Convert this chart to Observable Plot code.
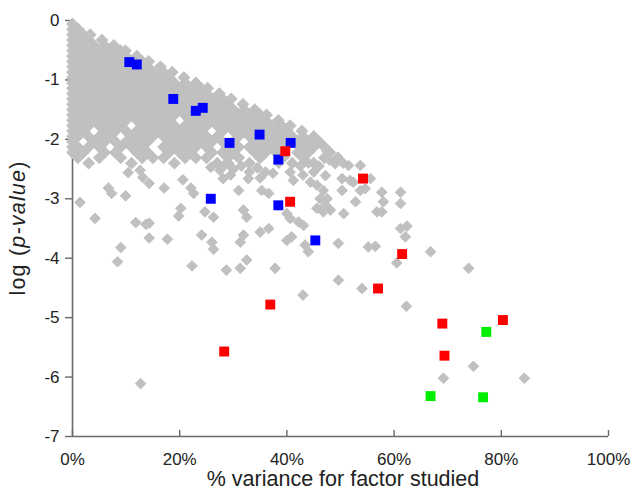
<!DOCTYPE html>
<html>
<head>
<meta charset="utf-8">
<script src="https://cdn.jsdelivr.net/npm/d3@7"></script>
<script src="https://cdn.jsdelivr.net/npm/@observablehq/plot@0.6"></script>
<style>
  html, body { margin: 0; padding: 0; background: #fff; }
  svg { display: block; }
</style>
</head>
<body>
<div id="chart"></div>
<script>
// ---- tick values ----
const xTicks = [0, 20, 40, 60, 80, 100];
const yTicks = [0, -1, -2, -3, -4, -5, -6, -7];

// ---- grey diamonds: dense band, read row by row (log p-value, then % variance values) ----
const greyRowV = [-0.06, -0.15, -0.24, -0.33, -0.42, -0.51, -0.60, -0.69, -0.78, -0.87, -0.96, -1.05, -1.14,
  -1.23, -1.32, -1.41, -1.50, -1.59, -1.68, -1.77, -1.86, -1.95, -2.04, -2.13, -2.22, -2.31, -2.40];
const greyRowP = [
  [0],
  [0, 1.1],
  [0, 2, 3.3],
  [0, 1, 3, 5.5],
  [0, 2, 4, 6, 7.7],
  [0, 1, 3, 5, 7, 9, 9.9],
  [0, 2, 4, 6, 8, 10, 12],
  [0, 1, 3, 5, 7, 9, 11, 13, 14.2],
  [0, 2, 4, 6, 8, 10, 12, 14, 16.4],
  [0, 1, 3, 5, 7, 9, 11, 13, 15, 17, 18.6],
  [0, 2, 4, 6, 8, 10, 12, 14, 16, 18, 20.8],
  [0, 1, 3, 5, 7, 9, 11, 13, 15, 17, 19, 21, 23],
  [0, 2, 4, 6, 8, 10, 12, 14, 16, 18, 20, 22, 24, 25.2],
  [0, 1, 3, 5, 7, 9, 11, 13, 15, 17, 19, 21, 23, 25, 27.4],
  [0, 2, 4, 6, 8, 10, 12, 14, 16, 18, 20, 22, 24, 26, 28, 29.6],
  [0, 1, 3, 5, 7, 9, 11, 13, 15, 17, 19, 21, 23, 25, 27, 29, 31.8],
  [0, 2, 4, 6, 8, 10, 12, 14, 16, 18, 20, 22, 24, 26, 28, 30, 32, 34],
  [0, 1, 3, 5, 7, 9, 11, 13, 15, 17, 19, 21, 23, 25, 27, 29, 31, 33, 35, 36.2],
  [0, 2, 4, 6, 8, 10, 12, 14, 16, 18, 22, 24, 26, 28, 30, 32, 34, 36, 38.4],
  [0, 1, 3, 5, 7, 9, 13, 15, 17, 19, 21, 23, 25, 27, 29, 31, 33, 35, 37, 39, 40.6],
  [0, 2, 6, 8, 10, 12, 14, 16, 18, 20, 22, 24, 28, 30, 32, 34, 36, 38, 40, 42.8],
  [0, 1, 3, 5, 7, 11, 13, 15, 17, 19, 21, 23, 25, 27, 31, 33, 35, 37, 39, 41, 43, 45],
  [0, 4, 6, 8, 10, 12, 14, 18, 20, 22, 24, 26, 28, 30, 34, 36, 38, 40, 42, 44, 46],
  [0, 1, 3, 5, 9, 11, 13, 17, 19, 21, 23, 25, 29, 31, 33, 35, 37, 39, 43, 45, 47],
  [0, 2, 6, 8, 12, 14, 18, 20, 22, 26, 28, 30, 34, 36, 38, 42, 44, 48],
  [1, 5, 9, 13, 15, 17, 21, 23, 25, 29, 31, 35, 39, 43, 47],
  [3, 11, 19, 27, 29, 33, 41, 45, 49]
];

// ---- grey diamonds: scattered points [% variance, log p-value] ----
const greyScatter = [
  [1.4,-3.06],[4.2,-3.33],[6.7,-2.82],[7.3,-2.91],[9.9,-2.95],[11.8,-3.40],[13.7,-3.43],[14.3,-3.41],
  [14.3,-3.66],[17.7,-3.68],[9.0,-3.82],[8.4,-4.06],[22.3,-4.13],[17.1,-2.82],[20.6,-2.68],[22.1,-2.82],
  [22.6,-2.91],[20.2,-3.16],[19.8,-3.29],[10.4,-2.56],[12.6,-2.52],[13.1,-2.64],[14.3,-2.74],[1.3,-2.24],
  [25.8,-2.47],[31.0,-2.86],[35.3,-2.86],[36.6,-2.91],[32.8,-2.66],[24.7,-3.22],[26.3,-3.31],[31.9,-3.19],
  [32.5,-3.31],[24.1,-3.61],[26.0,-3.73],[26.3,-3.85],[31.9,-3.61],[31.3,-3.73],[35.0,-3.56],[36.6,-3.50],
  [40.0,-3.70],[40.9,-3.64],[40.6,-3.33],[42.2,-3.39],[43.1,-3.45],[40.0,-3.25],[43.4,-3.78],[44.0,-3.89],
  [32.5,-4.03],[31.3,-4.17],[28.7,-4.20],[37.8,-4.17],[44.4,-2.72],[45.6,-2.77],[46.8,-2.86],[47.5,-3.00],
  [46.2,-3.00],[46.8,-3.22],[45.6,-3.16],[53.7,-2.44],[55.6,-2.66],[57.7,-2.89],[61.2,-2.89],[52.8,-3.05],
  [58.0,-3.05],[61.2,-3.08],[56.8,-3.22],[57.7,-3.22],[50.6,-3.25],[53.7,-2.86],[54.6,-2.83],[50.3,-2.86],
  [52.4,-2.72],[47.2,-2.61],[48.1,-3.19],[47.2,-3.11],[49.6,-3.75],[55.2,-3.81],[56.5,-3.80],[61.2,-3.50],
  [62.4,-3.46],[62.1,-3.64],[66.8,-3.89],[60.5,-4.08],[49.6,-4.37],[54.0,-4.51],[73.9,-4.17],[62.3,-4.81],
  [74.8,-5.82],[69.2,-6.02],[84.3,-6.02],[43.0,-4.62],[12.7,-6.11],
  [28.5,-2.42],[30.0,-2.50],[31.5,-2.45],[29.5,-2.60],[33.0,-2.55],[34.5,-2.48],[36.0,-2.55],[37.4,-2.57],
  [35.0,-2.65],[40.6,-2.55],[41.2,-2.69],[42.5,-2.45],[44.0,-2.40],[46.0,-2.45],[48.0,-2.35],[47.5,-2.20],
  [49.5,-2.30],[50.5,-2.40],[51.5,-2.44],[50.3,-2.66],[51.8,-2.69],[27.5,-2.52],[28.1,-2.66],[38.5,-2.40],
  [39.5,-2.30],[45.0,-2.55],[43.0,-2.60]
];

// ---- coloured squares ----
const blueX = [10.6, 12.0, 18.8, 23.0, 24.3, 29.3, 34.9, 40.7, 38.4, 25.8, 38.4, 45.3];
const blueY = [-0.70, -0.74, -1.32, -1.52, -1.47, -2.06, -1.92, -2.06, -2.34, -3.00, -3.11, -3.70];
const redX = [39.7, 40.6, 54.2, 61.5, 57.0, 36.9, 28.3, 69.0, 69.4, 80.3];
const redY = [-2.20, -3.05, -2.66, -3.93, -4.51, -4.78, -5.57, -5.10, -5.64, -5.04];
const greenX = [77.2, 66.8, 76.6];
const greenY = [-5.24, -6.32, -6.34];

// ---- build tables ----
const greyDense = [];
greyRowV.forEach((v, i) => greyRowP[i].forEach(p => greyDense.push({p, v})));
const greySparse = greyScatter.map(([p, v]) => ({p, v}));
const toRows = (xs, ys) => xs.map((p, i) => ({p, v: ys[i]}));
const blue = toRows(blueX, blueY);
const red = toRows(redX, redY);
const green = toRows(greenX, greenY);

const axisColor = "#6a6a6a";
const greyColor = "#c0c0c0";

const chart = Plot.plot({
  width: 634,
  height: 490,
  marginLeft: 72,
  marginRight: 26,
  marginTop: 20,
  marginBottom: 54,
  style: {fontFamily: "'Liberation Sans', Arial, Helvetica, sans-serif", fontSize: "17px", color: "#222", background: "#fff", overflow: "visible"},
  x: {domain: [0, 100]},
  y: {domain: [-7, 0]},
  marks: [
    Plot.ruleX([0], {stroke: axisColor, strokeWidth: 1.6}),
    Plot.ruleY([-7], {stroke: axisColor, strokeWidth: 1.6}),
    Plot.axisY({ticks: yTicks, tickSize: 7, tickPadding: 6, tickFormat: d => String(d), stroke: axisColor, strokeWidth: 1.4, label: null, fill: "#222"}),
    Plot.axisX({ticks: xTicks, tickSize: -6, tickPadding: 22, tickFormat: d => d + "%", stroke: axisColor, strokeWidth: 1.4, label: null, fill: "#222"}),
    Plot.dot(greyDense, {x: "p", y: "v", symbol: "diamond2", r: 4.8, fill: greyColor, stroke: greyColor, strokeWidth: 1.6}),
    Plot.dot(greySparse, {x: "p", y: "v", symbol: "diamond2", r: 4.8, fill: greyColor, stroke: greyColor, strokeWidth: 1}),
    Plot.dot(blue, {x: "p", y: "v", symbol: "square", r: 5.6, fill: "#0000ff"}),
    Plot.dot(red, {x: "p", y: "v", symbol: "square", r: 5.6, fill: "#ff0000"}),
    Plot.dot(green, {x: "p", y: "v", symbol: "square", r: 5.6, fill: "#00ee00"})
  ]
});

// axis titles
const svg = d3.select(chart);
svg.append("text")
  .attr("x", 343).attr("y", 486)
  .attr("text-anchor", "middle")
  .attr("font-size", 21.5)
  .attr("fill", "#222")
  .text("% variance for factor studied");
const yt = svg.append("text")
  .attr("transform", "translate(25,228) rotate(-90)")
  .attr("text-anchor", "middle")
  .attr("font-size", 21.5)
  .attr("letter-spacing", 1.2)
  .attr("fill", "#222");
yt.append("tspan").text("log (");
yt.append("tspan").attr("font-style", "italic").text("p-value");
yt.append("tspan").text(")");

document.getElementById("chart").appendChild(chart);
</script>
</body>
</html>
